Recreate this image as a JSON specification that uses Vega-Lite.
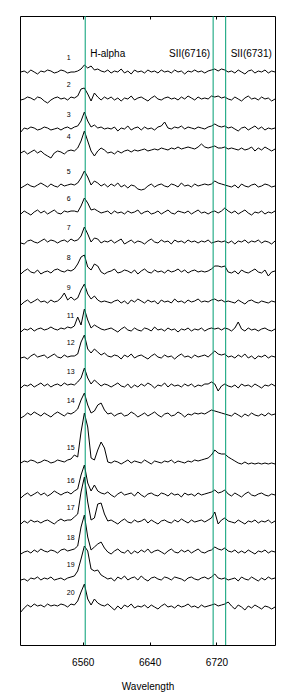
{
"$schema":"https://vega.github.io/schema/vega-lite/v6.json",
"width":255,"height":629,
"autosize":{"type":"none"},
"padding":{"left":20,"top":16,"right":25,"bottom":55},
"background":"white",
"config":{"view":{"stroke":"black","strokeWidth":1},"axis":{"grid":false},"font":"Liberation Sans"},
"data":{"values":[
{"w":6486,"1":573,"2":545,"3":513,"4":492,"5":457,"6":431,"7":402,"8":371,"9":340,"11":313,"12":287,"13":257,"14":227,"15":182,"16":147,"17":121,"18":91,"19":65,"20":33},
{"w":6490,"1":574,"2":546,"3":517,"4":494,"5":459,"6":434,"7":401,"8":374,"9":343,"11":316,"12":288,"13":260,"14":229,"15":184,"16":150,"17":124,"18":93,"19":66,"20":37},
{"w":6494,"1":572,"2":548,"3":516,"4":491,"5":461,"6":432,"7":404,"8":376,"9":345,"11":315,"12":286,"13":259,"14":232,"15":183,"16":152,"17":122,"18":94,"19":64,"20":40},
{"w":6498,"1":575,"2":547,"3":518,"4":493,"5":459,"6":430,"7":405,"8":373,"9":342,"11":317,"12":289,"13":261,"14":230,"15":185,"16":149,"17":125,"18":92,"19":67,"20":38},
{"w":6502,"1":573,"2":545,"3":517,"4":495,"5":458,"6":433,"7":403,"8":372,"9":344,"11":314,"12":291,"13":258,"14":233,"15":184,"16":151,"17":123,"18":95,"19":66,"20":41},
{"w":6506,"1":571,"2":548,"3":515,"4":492,"5":460,"6":435,"7":402,"8":375,"9":346,"11":316,"12":288,"13":260,"14":231,"15":182,"16":153,"17":124,"18":93,"19":68,"20":39},
{"w":6510,"1":574,"2":547,"3":516,"4":494,"5":462,"6":432,"7":404,"8":371,"9":343,"11":317,"12":289,"13":262,"14":229,"15":183,"16":150,"17":122,"18":96,"19":65,"20":40},
{"w":6514,"1":573,"2":544,"3":518,"4":491,"5":460,"6":434,"7":406,"8":373,"9":344,"11":315,"12":290,"13":259,"14":232,"15":185,"16":152,"17":124,"18":94,"19":67,"20":38},
{"w":6518,"1":575,"2":542,"3":517,"4":489,"5":458,"6":431,"7":403,"8":374,"9":342,"11":316,"12":287,"13":261,"14":230,"15":184,"16":149,"17":125,"18":93,"19":66,"20":41},
{"w":6522,"1":574,"2":545,"3":515,"4":487,"5":461,"6":433,"7":405,"8":372,"9":345,"11":318,"12":289,"13":258,"14":228,"15":182,"16":151,"17":123,"18":95,"19":68,"20":39},
{"w":6526,"1":572,"2":547,"3":516,"4":492,"5":459,"6":435,"7":404,"8":375,"9":343,"11":316,"12":291,"13":260,"14":231,"15":183,"16":154,"17":121,"18":94,"19":65,"20":40},
{"w":6530,"1":573,"2":548,"3":517,"4":494,"5":458,"6":432,"7":402,"8":376,"9":344,"11":315,"12":288,"13":261,"14":233,"15":185,"16":152,"17":124,"18":92,"19":66,"20":39},
{"w":6534,"1":575,"2":546,"3":515,"4":493,"5":461,"6":431,"7":404,"8":374,"9":347,"11":317,"12":287,"13":259,"14":231,"15":184,"16":150,"17":126,"18":95,"19":67,"20":41},
{"w":6538,"1":574,"2":547,"3":517,"4":491,"5":459,"6":434,"7":405,"8":373,"9":352,"11":316,"12":290,"13":262,"14":229,"15":183,"16":152,"17":124,"18":96,"19":65,"20":40},
{"w":6542,"1":572,"2":545,"3":518,"4":494,"5":460,"6":433,"7":403,"8":375,"9":345,"11":318,"12":288,"13":260,"14":232,"15":185,"16":153,"17":125,"18":94,"19":67,"20":38},
{"w":6546,"1":573,"2":548,"3":516,"4":495,"5":461,"6":434,"7":406,"8":374,"9":348,"11":317,"12":289,"13":261,"14":231,"15":186,"16":151,"17":125,"18":95,"19":68,"20":41},
{"w":6550,"1":573,"2":547,"3":518,"4":494,"5":460,"6":434,"7":404,"8":376,"9":345,"11":319,"12":289,"13":260,"14":233,"15":190,"16":154,"17":128,"18":96,"19":69,"20":40},
{"w":6554,"1":574,"2":549,"3":519,"4":497,"5":462,"6":433,"7":405,"8":381,"9":347,"11":328,"12":291,"13":263,"14":236,"15":188,"16":156,"17":131,"18":99,"19":74,"20":44},
{"w":6558,"1":576,"2":556,"3":524,"4":504,"5":467,"6":439,"7":409,"8":388,"9":355,"11":320,"12":303,"13":267,"14":245,"15":213,"16":170,"17":153,"18":118,"19":86,"20":53},
{"w":6562,"1":580,"2":557,"3":533,"4":514,"5":474,"6":447,"7":418,"8":390,"9":361,"11":336,"12":310,"13":277,"14":252,"15":232,"16":180,"17":168,"18":130,"19":99,"20":61},
{"w":6566,"1":577,"2":551,"3":524,"4":504,"5":468,"6":442,"7":411,"8":378,"9":351,"11":325,"12":296,"13":267,"14":240,"15":218,"16":162,"17":143,"18":108,"19":94,"20":46},
{"w":6570,"1":579,"2":544,"3":518,"4":494,"5":460,"6":435,"7":403,"8":375,"9":346,"11":317,"12":292,"13":261,"14":232,"15":187,"16":154,"17":125,"18":95,"19":76,"20":40},
{"w":6574,"1":575,"2":552,"3":520,"4":489,"5":464,"6":436,"7":407,"8":381,"9":349,"11":320,"12":296,"13":265,"14":234,"15":185,"16":160,"17":127,"18":98,"19":74,"20":46},
{"w":6578,"1":576,"2":548,"3":517,"4":494,"5":462,"6":434,"7":406,"8":379,"9":345,"11":318,"12":293,"13":262,"14":240,"15":195,"16":154,"17":141,"18":101,"19":75,"20":42},
{"w":6582,"1":574,"2":545,"3":518,"4":497,"5":459,"6":432,"7":402,"8":373,"9":343,"11":316,"12":290,"13":259,"14":242,"15":203,"16":152,"17":142,"18":103,"19":70,"20":40},
{"w":6586,"1":573,"2":548,"3":516,"4":495,"5":461,"6":433,"7":404,"8":371,"9":344,"11":315,"12":292,"13":261,"14":235,"15":197,"16":151,"17":131,"18":97,"19":68,"20":39},
{"w":6590,"1":575,"2":546,"3":517,"4":492,"5":458,"6":434,"7":403,"8":373,"9":343,"11":316,"12":289,"13":260,"14":231,"15":183,"16":153,"17":124,"18":93,"19":66,"20":41},
{"w":6594,"1":572,"2":548,"3":516,"4":493,"5":461,"6":431,"7":405,"8":374,"9":342,"11":317,"12":288,"13":258,"14":232,"15":182,"16":150,"17":125,"18":91,"19":67,"20":38},
{"w":6598,"1":574,"2":545,"3":518,"4":491,"5":459,"6":434,"7":402,"8":376,"9":344,"11":315,"12":290,"13":260,"14":229,"15":184,"16":148,"17":123,"18":94,"19":64,"20":35},
{"w":6602,"1":573,"2":547,"3":514,"4":494,"5":462,"6":432,"7":404,"8":372,"9":345,"11":313,"12":289,"13":262,"14":231,"15":183,"16":151,"17":121,"18":96,"19":68,"20":39},
{"w":6606,"1":576,"2":544,"3":517,"4":492,"5":458,"6":433,"7":406,"8":373,"9":342,"11":316,"12":286,"13":259,"14":232,"15":181,"16":153,"17":124,"18":93,"19":66,"20":36},
{"w":6610,"1":572,"2":547,"3":516,"4":494,"5":460,"6":431,"7":401,"8":375,"9":344,"11":318,"12":290,"13":258,"14":229,"15":183,"16":150,"17":126,"18":92,"19":69,"20":40},
{"w":6614,"1":574,"2":546,"3":519,"4":495,"5":457,"6":434,"7":403,"8":374,"9":341,"11":315,"12":288,"13":261,"14":230,"15":185,"16":151,"17":123,"18":95,"19":65,"20":38},
{"w":6618,"1":571,"2":549,"3":515,"4":493,"5":460,"6":432,"7":405,"8":372,"9":345,"11":314,"12":291,"13":257,"14":233,"15":182,"16":152,"17":122,"18":91,"19":67,"20":41},
{"w":6622,"1":575,"2":545,"3":517,"4":495,"5":459,"6":433,"7":402,"8":375,"9":343,"11":317,"12":287,"13":260,"14":231,"15":184,"16":149,"17":125,"18":94,"19":68,"20":37},
{"w":6626,"1":573,"2":547,"3":518,"4":494,"5":456,"6":435,"7":404,"8":371,"9":346,"11":315,"12":289,"13":258,"14":228,"15":183,"16":153,"17":123,"18":92,"19":65,"20":39},
{"w":6630,"1":574,"2":548,"3":515,"4":495,"5":455,"6":431,"7":403,"8":374,"9":344,"11":314,"12":290,"13":261,"14":230,"15":182,"16":150,"17":124,"18":95,"19":69,"20":38},
{"w":6634,"1":572,"2":546,"3":518,"4":496,"5":456,"6":433,"7":401,"8":376,"9":342,"11":317,"12":288,"13":259,"14":232,"15":185,"16":148,"17":126,"18":93,"19":66,"20":40},
{"w":6638,"1":575,"2":544,"3":516,"4":494,"5":459,"6":434,"7":404,"8":373,"9":345,"11":316,"12":286,"13":262,"14":229,"15":183,"16":151,"17":122,"18":96,"19":64,"20":37},
{"w":6642,"1":573,"2":547,"3":517,"4":495,"5":461,"6":431,"7":406,"8":372,"9":343,"11":314,"12":289,"13":260,"14":231,"15":181,"16":152,"17":125,"18":92,"19":67,"20":40},
{"w":6646,"1":574,"2":549,"3":515,"4":496,"5":458,"6":432,"7":403,"8":375,"9":344,"11":318,"12":291,"13":257,"14":233,"15":184,"16":150,"17":123,"18":94,"19":68,"20":38},
{"w":6650,"1":572,"2":546,"3":518,"4":495,"5":460,"6":434,"7":402,"8":373,"9":341,"11":315,"12":288,"13":260,"14":230,"15":183,"16":149,"17":121,"18":95,"19":66,"20":36},
{"w":6654,"1":575,"2":545,"3":519,"4":497,"5":461,"6":431,"7":405,"8":374,"9":345,"11":316,"12":287,"13":259,"14":228,"15":182,"16":152,"17":124,"18":93,"19":65,"20":39},
{"w":6658,"1":573,"2":547,"3":523,"4":496,"5":459,"6":433,"7":403,"8":372,"9":343,"11":314,"12":290,"13":262,"14":231,"15":184,"16":151,"17":125,"18":91,"19":68,"20":41},
{"w":6662,"1":574,"2":548,"3":517,"4":495,"5":458,"6":435,"7":404,"8":375,"9":344,"11":317,"12":288,"13":258,"14":232,"15":183,"16":149,"17":123,"18":94,"19":67,"20":38},
{"w":6666,"1":572,"2":546,"3":516,"4":497,"5":461,"6":432,"7":401,"8":373,"9":342,"11":315,"12":289,"13":261,"14":229,"15":185,"16":152,"17":122,"18":96,"19":65,"20":39},
{"w":6670,"1":575,"2":547,"3":518,"4":496,"5":460,"6":431,"7":405,"8":374,"9":346,"11":316,"12":286,"13":259,"14":230,"15":182,"16":150,"17":125,"18":93,"19":68,"20":37},
{"w":6674,"1":573,"2":545,"3":517,"4":498,"5":458,"6":434,"7":403,"8":376,"9":343,"11":313,"12":289,"13":260,"14":233,"15":184,"16":151,"17":123,"18":92,"19":67,"20":40},
{"w":6678,"1":574,"2":548,"3":519,"4":496,"5":462,"6":433,"7":404,"8":373,"9":344,"11":316,"12":291,"13":258,"14":231,"15":183,"16":148,"17":126,"18":95,"19":66,"20":38},
{"w":6682,"1":571,"2":546,"3":516,"4":497,"5":459,"6":432,"7":402,"8":375,"9":342,"11":315,"12":288,"13":261,"14":228,"15":182,"16":152,"17":124,"18":93,"19":64,"20":39},
{"w":6686,"1":574,"2":549,"3":518,"4":498,"5":460,"6":434,"7":405,"8":372,"9":345,"11":317,"12":289,"13":259,"14":231,"15":184,"16":150,"17":122,"18":95,"19":67,"20":41},
{"w":6690,"1":573,"2":547,"3":517,"4":497,"5":458,"6":431,"7":403,"8":374,"9":343,"11":314,"12":287,"13":261,"14":230,"15":183,"16":151,"17":125,"18":92,"19":68,"20":38},
{"w":6694,"1":575,"2":545,"3":516,"4":496,"5":461,"6":433,"7":404,"8":375,"9":344,"11":316,"12":290,"13":258,"14":232,"15":185,"16":149,"17":123,"18":94,"19":66,"20":39},
{"w":6698,"1":573,"2":548,"3":518,"4":498,"5":459,"6":435,"7":402,"8":373,"9":346,"11":315,"12":288,"13":260,"14":231,"15":184,"16":152,"17":124,"18":96,"19":65,"20":37},
{"w":6702,"1":574,"2":546,"3":517,"4":501,"5":460,"6":432,"7":404,"8":374,"9":343,"11":317,"12":289,"13":259,"14":232,"15":185,"16":150,"17":125,"18":93,"19":67,"20":40},
{"w":6706,"1":572,"2":547,"3":516,"4":498,"5":461,"6":433,"7":403,"8":373,"9":344,"11":314,"12":290,"13":261,"14":231,"15":186,"16":151,"17":123,"18":92,"19":68,"20":38},
{"w":6710,"1":574,"2":546,"3":518,"4":497,"5":460,"6":431,"7":405,"8":374,"9":343,"11":316,"12":288,"13":261,"14":233,"15":187,"16":152,"17":125,"18":94,"19":66,"20":39},
{"w":6714,"1":575,"2":549,"3":519,"4":498,"5":461,"6":433,"7":402,"8":376,"9":345,"11":317,"12":291,"13":263,"14":235,"15":190,"16":153,"17":127,"18":95,"19":68,"20":40},
{"w":6718,"1":576,"2":548,"3":521,"4":499,"5":464,"6":434,"7":403,"8":379,"9":346,"11":316,"12":294,"13":261,"14":234,"15":195,"16":155,"17":133,"18":98,"19":71,"20":41},
{"w":6722,"1":574,"2":549,"3":519,"4":497,"5":462,"6":432,"7":404,"8":379,"9":344,"11":317,"12":291,"13":254,"14":233,"15":192,"16":152,"17":121,"18":96,"19":67,"20":39},
{"w":6726,"1":576,"2":547,"3":518,"4":497,"5":461,"6":434,"7":403,"8":378,"9":345,"11":315,"12":290,"13":259,"14":232,"15":191,"16":153,"17":125,"18":95,"19":66,"20":40},
{"w":6730,"1":575,"2":548,"3":519,"4":498,"5":460,"6":437,"7":404,"8":379,"9":343,"11":317,"12":291,"13":261,"14":231,"15":191,"16":155,"17":127,"18":97,"19":67,"20":41},
{"w":6734,"1":573,"2":546,"3":517,"4":496,"5":459,"6":434,"7":402,"8":373,"9":344,"11":316,"12":288,"13":259,"14":230,"15":188,"16":151,"17":124,"18":94,"19":65,"20":43},
{"w":6738,"1":574,"2":545,"3":518,"4":497,"5":458,"6":432,"7":404,"8":372,"9":343,"11":314,"12":289,"13":258,"14":229,"15":186,"16":149,"17":123,"18":93,"19":66,"20":39},
{"w":6742,"1":572,"2":548,"3":516,"4":496,"5":460,"6":434,"7":401,"8":374,"9":342,"11":317,"12":287,"13":260,"14":232,"15":184,"16":152,"17":122,"18":95,"19":67,"20":36},
{"w":6746,"1":575,"2":546,"3":514,"4":495,"5":457,"6":431,"7":404,"8":371,"9":345,"11":323,"12":290,"13":257,"14":230,"15":182,"16":150,"17":125,"18":92,"19":64,"20":40},
{"w":6750,"1":573,"2":544,"3":517,"4":497,"5":461,"6":433,"7":403,"8":375,"9":343,"11":316,"12":288,"13":261,"14":228,"15":181,"16":148,"17":123,"18":94,"19":68,"20":38},
{"w":6754,"1":571,"2":547,"3":518,"4":495,"5":459,"6":435,"7":405,"8":373,"9":341,"11":314,"12":291,"13":259,"14":231,"15":183,"16":151,"17":121,"18":92,"19":66,"20":35},
{"w":6758,"1":574,"2":549,"3":515,"4":496,"5":458,"6":432,"7":402,"8":372,"9":344,"11":317,"12":287,"13":260,"14":229,"15":181,"16":153,"17":124,"18":95,"19":65,"20":39},
{"w":6762,"1":575,"2":546,"3":517,"4":498,"5":460,"6":430,"7":404,"8":374,"9":345,"11":315,"12":289,"13":258,"14":232,"15":182,"16":150,"17":123,"18":93,"19":68,"20":37},
{"w":6766,"1":572,"2":547,"3":519,"4":494,"5":461,"6":433,"7":403,"8":376,"9":343,"11":316,"12":286,"13":261,"14":230,"15":181,"16":149,"17":125,"18":91,"19":66,"20":40},
{"w":6770,"1":574,"2":545,"3":516,"4":497,"5":458,"6":432,"7":405,"8":373,"9":342,"11":314,"12":289,"13":259,"14":229,"15":182,"16":151,"17":122,"18":94,"19":64,"20":38},
{"w":6774,"1":573,"2":548,"3":518,"4":495,"5":459,"6":434,"7":402,"8":372,"9":344,"11":316,"12":288,"13":257,"14":231,"15":181,"16":152,"17":124,"18":93,"19":67,"20":36},
{"w":6778,"1":575,"2":546,"3":515,"4":498,"5":461,"6":431,"7":404,"8":375,"9":343,"11":317,"12":290,"13":260,"14":229,"15":182,"16":150,"17":123,"18":95,"19":65,"20":39},
{"w":6782,"1":572,"2":547,"3":517,"4":496,"5":460,"6":433,"7":403,"8":369,"9":342,"11":315,"12":287,"13":259,"14":232,"15":181,"16":149,"17":125,"18":92,"19":68,"20":38},
{"w":6786,"1":574,"2":544,"3":516,"4":494,"5":458,"6":432,"7":401,"8":373,"9":344,"11":314,"12":289,"13":261,"14":230,"15":182,"16":151,"17":122,"18":94,"19":66,"20":36},
{"w":6790,"1":573,"2":546,"3":517,"4":496,"5":459,"6":434,"7":404,"8":374,"9":343,"11":316,"12":288,"13":259,"14":231,"15":181,"16":150,"17":124,"18":93,"19":67,"20":38}
]},
"layer":[
{"transform":[{"fold":["1","2","3","4","5","6","7","8","9","11","12","13","14","15","16","17","18","19","20"],"as":["key","f"]}],
 "mark":{"type":"line","color":"black","strokeWidth":1},
 "encoding":{
  "x":{"field":"w","type":"quantitative","scale":{"domain":[6485,6790],"nice":false,"zero":false},
   "axis":{"orient":"bottom","values":[6560,6640,6720],"format":"d","title":"Wavelength","domain":false,"tickSize":-3,"tickColor":"black","labelPadding":15,"labelFontSize":10,"labelColor":"black","labelFont":"Liberation Sans","titleFont":"Liberation Sans","titleFontSize":10,"titleFontWeight":"normal","titleColor":"black","titlePadding":14}},
  "y":{"field":"f","type":"quantitative","scale":{"domain":[0,629],"nice":false,"zero":false},"axis":null},
  "detail":{"field":"key"}
 }},
{"transform":[{"fold":["1","2","3","4","5","6","7","8","9","11","12","13","14","15","16","17","18","19","20"],"as":["key","f"]},{"aggregate":[{"op":"median","field":"f","as":"base"}],"groupby":["key"]}],
 "mark":{"type":"text","align":"left","baseline":"middle","dy":-13,"fontSize":7,"font":"Liberation Sans","color":"black"},
 "encoding":{
  "x":{"datum":6541,"type":"quantitative","scale":{"domain":[6485,6790],"nice":false,"zero":false},"axis":null},
  "y":{"field":"base","type":"quantitative","scale":{"domain":[0,629],"nice":false,"zero":false},"axis":null},
  "text":{"field":"key"}
 }},
{"data":{"values":[{"line":6563,"label":"H-alpha"},{"line":6716,"label":"SII(6716)"},{"line":6731,"label":"SII(6731)"}]},
 "mark":{"type":"rule","color":"#009E73","strokeWidth":1},
 "encoding":{
  "x":{"field":"line","type":"quantitative","scale":{"domain":[6485,6790],"nice":false,"zero":false},
   "axis":{"orient":"top","labels":false,"title":null,"domain":false,"values":[6560,6640,6720],"tickSize":-3,"tickColor":"black"}}
 }},
{"data":{"values":[{"line":6563,"label":"H-alpha"},{"line":6716,"label":"SII(6716)"},{"line":6731,"label":"SII(6731)"}]},
 "transform":[{"filter":"datum.label === 'SII(6716)'"}],
 "mark":{"type":"text","align":"right","baseline":"middle","dx":-3,"fontSize":10,"font":"Liberation Sans","color":"black"},
 "encoding":{
  "x":{"field":"line","type":"quantitative","scale":{"domain":[6485,6790],"nice":false,"zero":false},"axis":null},
  "y":{"datum":591,"type":"quantitative","scale":{"domain":[0,629],"nice":false,"zero":false},"axis":null},
  "text":{"field":"label"}
 }},
{"data":{"values":[{"line":6563,"label":"H-alpha"},{"line":6716,"label":"SII(6716)"},{"line":6731,"label":"SII(6731)"}]},
 "transform":[{"filter":"datum.label !== 'SII(6716)'"}],
 "mark":{"type":"text","align":"left","baseline":"middle","dx":5,"fontSize":10,"font":"Liberation Sans","color":"black"},
 "encoding":{
  "x":{"field":"line","type":"quantitative","scale":{"domain":[6485,6790],"nice":false,"zero":false},"axis":null},
  "y":{"datum":591,"type":"quantitative","scale":{"domain":[0,629],"nice":false,"zero":false},"axis":null},
  "text":{"field":"label"}
 }}
]
}
